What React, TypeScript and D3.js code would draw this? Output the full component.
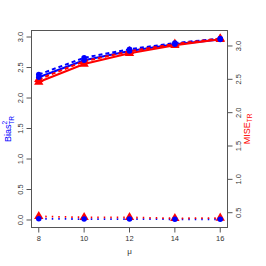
import React from "react";
import * as d3 from "d3";

const mu = [8, 10, 12, 14, 16];
// Bias^2 (left axis, blue)
const biasSolid = [2.34, 2.62, 2.77, 2.88, 2.96];
const biasDashed = [2.385, 2.66, 2.8, 2.9, 2.975];
const biasDotted = [0.02, 0.015, 0.015, 0.012, 0.012];
// MISE (right axis, red)
const miseSolid = [2.46, 2.73, 2.89, 3.01, 3.1];
const miseDashed = [2.5, 2.77, 2.92, 3.03, 3.11];
const miseDotted = [0.445, 0.43, 0.43, 0.415, 0.42];

const xTicks = [8, 10, 12, 14, 16];
const leftTicks = [0, 0.5, 1, 1.5, 2, 2.5, 3];
const rightTicks = [0.5, 1, 1.5, 2, 2.5, 3];

const W = 266, H = 266;
const L = 31.5, R = 227.5, T = 30.5, B = 227.5;
const FONT = "'Liberation Sans', Arial, Helvetica, sans-serif";
const AX = "#555";

export default function App() {
  const x = d3.scaleLinear().domain([7.68, 16.32]).range([L, R]);
  const yL = d3.scaleLinear().domain([-0.123, 3.107]).range([B, T]);
  const yR = d3.scaleLinear().domain([0.278, 3.232]).range([B, T]);

  const lineL = d3.line<number>().x((_, i) => x(mu[i])).y((d) => yL(d));
  const lineR = d3.line<number>().x((_, i) => x(mu[i])).y((d) => yR(d));
  const circle = d3.symbol(d3.symbolCircle, 24)();
  const tri = d3.symbol(d3.symbolTriangle, 38)();

  const blue = "#0000FF";
  const red = "#FF0000";

  const blueSeries = [
    { v: biasSolid, ln: lineL, y: yL, c: blue, dash: undefined, w: 2, sym: circle },
    { v: biasDashed, ln: lineL, y: yL, c: blue, dash: "4,3", w: 2, sym: circle },
    { v: biasDotted, ln: lineL, y: yL, c: blue, dash: "1.5,5", w: 1.8, sym: circle },
  ];
  const redSeries = [
    { v: miseSolid, ln: lineR, y: yR, c: red, dash: undefined, w: 2, sym: tri },
    { v: miseDashed, ln: lineR, y: yR, c: red, dash: "4,3", w: 2, sym: tri },
    { v: miseDotted, ln: lineR, y: yR, c: red, dash: "1.5,5", w: 1.8, sym: tri },
  ];
  const lineOrder = [...blueSeries, ...redSeries];
  const markOrder = [...redSeries, ...blueSeries];

  const midY = (T + B) / 2;

  return (
    <svg width={W} height={H} style={{ position: "absolute", left: 0, top: 0, background: "#fff" }}>
      <rect x={0} y={0} width={W} height={H} fill="#fff" />
      {lineOrder.map((s, k) => (
        <path key={k} d={s.ln(s.v) || ""} fill="none" stroke={s.c} strokeWidth={s.w} strokeDasharray={s.dash} />
      ))}
      {markOrder.map((s, k) => (
        <g key={k}>
          {s.v.map((d, i) => (
            <path key={i} d={s.sym || ""} transform={`translate(${x(mu[i])},${s.y(d)})`} fill={s.c} />
          ))}
        </g>
      ))}
      <rect x={L} y={T} width={R - L} height={B - T} fill="none" stroke={AX} strokeWidth={1} />
      {xTicks.map((t) => (
        <g key={t}>
          <line x1={x(t)} x2={x(t)} y1={B} y2={B + 5} stroke={AX} />
          <text x={x(t)} y={B + 13} fontSize={7.5} fontFamily={FONT} textAnchor="middle" fill="#333">{t}</text>
        </g>
      ))}
      {leftTicks.map((t) => (
        <g key={t}>
          <line x1={L - 5} x2={L} y1={yL(t)} y2={yL(t)} stroke={AX} />
          <text transform={`translate(${L - 9},${yL(t)}) rotate(-90)`} fontSize={7.5} fontFamily={FONT} textAnchor="middle" fill="#333">{t.toFixed(1)}</text>
        </g>
      ))}
      {rightTicks.map((t) => (
        <g key={t}>
          <line x1={R} x2={R + 5} y1={yR(t)} y2={yR(t)} stroke={AX} />
          <text transform={`translate(${R + 13},${yR(t)}) rotate(-90)`} fontSize={7.5} fontFamily={FONT} textAnchor="middle" fill="#333">{t.toFixed(1)}</text>
        </g>
      ))}
      <text x={(L + R) / 2} y={254} fontSize={8} fontFamily={FONT} textAnchor="middle" fill="#333">μ</text>
      <text transform={`translate(11,${midY}) rotate(-90)`} fontSize={9} fontFamily={FONT} textAnchor="middle" fill={blue}>
        Bias<tspan fontSize={6.5} dy={-4}>2</tspan><tspan fontSize={6.5} dx={-4} dy={6.5}>TR</tspan>
      </text>
      <text transform={`translate(250,${midY}) rotate(-90)`} fontSize={9} fontFamily={FONT} textAnchor="middle" fill={red}>
        MISE<tspan fontSize={6.5} dy={2}>TR</tspan>
      </text>
    </svg>
  );
}
